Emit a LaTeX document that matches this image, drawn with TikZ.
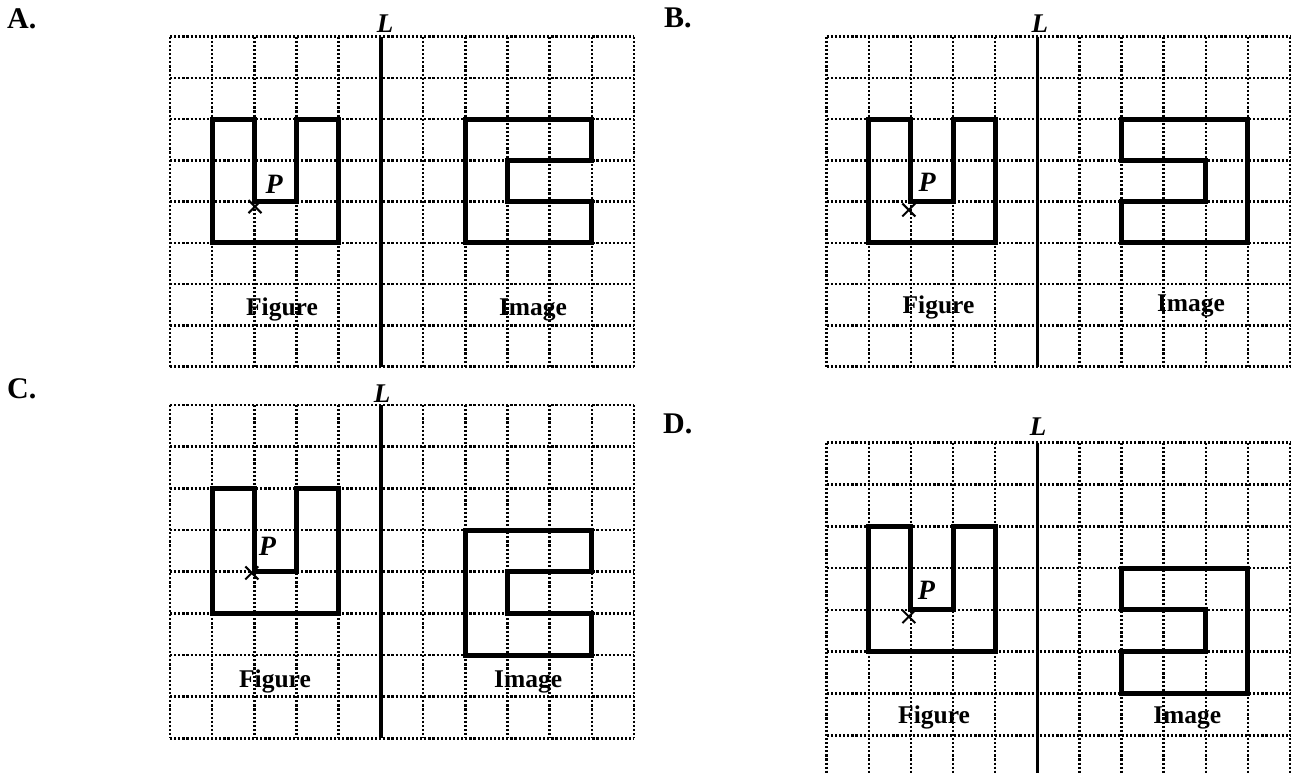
\documentclass[tikz,border=0pt]{standalone}
\usepackage{fontspec}
\setmainfont{Liberation Serif}
\tikzset{
  gridline/.style={line width=2.5pt, dash pattern=on 2.2pt off 1.9pt},
  outline/.style={line width=5pt, line join=miter},
  mirrorline/.style={line width=3.4pt},
  crossmark/.style={line width=2pt},
  plabel/.style={font=\bfseries\fontsize{30}{32}\selectfont, inner sep=0pt, anchor=base west},
  caption/.style={font=\bfseries\fontsize{25.5}{27}\selectfont, inner sep=0pt, anchor=base},
  lname/.style={font=\bfseries\itshape\fontsize{27}{29}\selectfont, inner sep=0pt, anchor=base},
  pname/.style={font=\bfseries\itshape\fontsize{28}{30}\selectfont, inner sep=0pt, anchor=base west},
}
\newcommand\drawgrid{%
  \foreach \i in {0,...,11} \draw[gridline] (\i,0) -- (\i,8);
  \foreach \j in {0,...,8} \draw[gridline] (0,\j) -- (11,\j);
}
\newcommand\figshape{%
  \draw[outline] (1,2) -- (2,2) -- (2,4) -- (3,4) -- (3,2) -- (4,2) -- (4,5) -- (1,5) -- cycle;
}
\newcommand\xmark[1]{%
  \draw[crossmark] (#1) ++(-6.5pt,-6.5pt) -- ++(13pt,13pt);
  \draw[crossmark] (#1) ++(-6.5pt,6.5pt) -- ++(13pt,-13pt);
}
\begin{document}
\begin{tikzpicture}[x=1pt,y=-1pt]
\useasboundingbox (0,0) rectangle (1293,773);
\clip (0,0) rectangle (1293,773);

\node[plabel] (labA) at (7,29) {A.};
\node[plabel] (labB) at (664,28) {B.};
\node[plabel] (labC) at (7,398) {C.};
\node[plabel] (labD) at (663,433) {D.};

% ---------- Panel A ----------
\begin{scope}[shift={(170pt,-36.7pt)},x=42.18pt,y=-41.25pt]
  \drawgrid
  \coordinate (LtopA) at (5,0);
  \coordinate (LbotA) at (5,8);
  \draw[mirrorline] (LtopA) -- (LbotA);
  \node[lname] (LA) at (5.1,-0.1) {L};
  \figshape
  \draw[outline] (7,2) -- (10,2) -- (10,3) -- (8,3) -- (8,4) -- (10,4) -- (10,5) -- (7,5) -- cycle;
  \coordinate (xA) at (2.015,4.12);
  \xmark{xA}
  \node[pname] (PA) at (2.26,3.79) {P};
  \node[caption] (figA) at (2.655,6.77) {Figure};
  \node[caption] (imgA) at (8.606,6.77) {Image};
\end{scope}

% ---------- Panel B ----------
\begin{scope}[shift={(826.7pt,-36.7pt)},x=42.12pt,y=-41.25pt]
  \drawgrid
  \coordinate (LtopB) at (5,0);
  \coordinate (LbotB) at (5,8);
  \draw[mirrorline] (LtopB) -- (LbotB);
  \node[lname] (LB) at (5.06,-0.1) {L};
  \figshape
  \draw[outline] (7,3) -- (7,2) -- (10,2) -- (10,5) -- (7,5) -- (7,4) -- (9,4) -- (9,3) -- cycle;
  \coordinate (xB) at (1.95,4.2);
  \xmark{xB}
  \node[pname] (PB) at (2.18,3.76) {P};
  \node[caption] (figB) at (2.654,6.7) {Figure};
  \node[caption] (imgB) at (8.65,6.67) {Image};
\end{scope}

% ---------- Panel C ----------
\begin{scope}[shift={(170pt,-405pt)},x=42.18pt,y=-41.67pt]
  \drawgrid
  \coordinate (LtopC) at (5,0);
  \coordinate (LbotC) at (5,8);
  \draw[mirrorline] (LtopC) -- (LbotC);
  \node[lname] (LC) at (5.03,-0.05) {L};
  \figshape
  \draw[outline] (7,3) -- (10,3) -- (10,4) -- (8,4) -- (8,5) -- (10,5) -- (10,6) -- (7,6) -- cycle;
  \coordinate (xC) at (1.94,4.03);
  \xmark{xC}
  \node[pname] (PC) at (2.1,3.62) {P};
  \node[caption] (figC) at (2.49,6.79) {Figure};
  \node[caption] (imgC) at (8.49,6.79) {Image};
\end{scope}

% ---------- Panel D ----------
\begin{scope}[shift={(826.7pt,-442.7pt)},x=42.12pt,y=-41.8pt]
  \drawgrid
  \coordinate (LtopD) at (5,0);
  \coordinate (LbotD) at (5,8);
  \draw[mirrorline] (LtopD) -- (LbotD);
  \node[lname] (LD) at (5.02,-0.18) {L};
  \figshape
  \draw[outline] (7,4) -- (7,3) -- (10,3) -- (10,6) -- (7,6) -- (7,5) -- (9,5) -- (9,4) -- cycle;
  \coordinate (xD) at (1.95,4.16);
  \xmark{xD}
  \node[pname] (PD) at (2.16,3.76) {P};
  \node[caption] (figD) at (2.55,6.71) {Figure};
  \node[caption] (imgD) at (8.56,6.71) {Image};
\end{scope}
\end{tikzpicture}
\end{document}
